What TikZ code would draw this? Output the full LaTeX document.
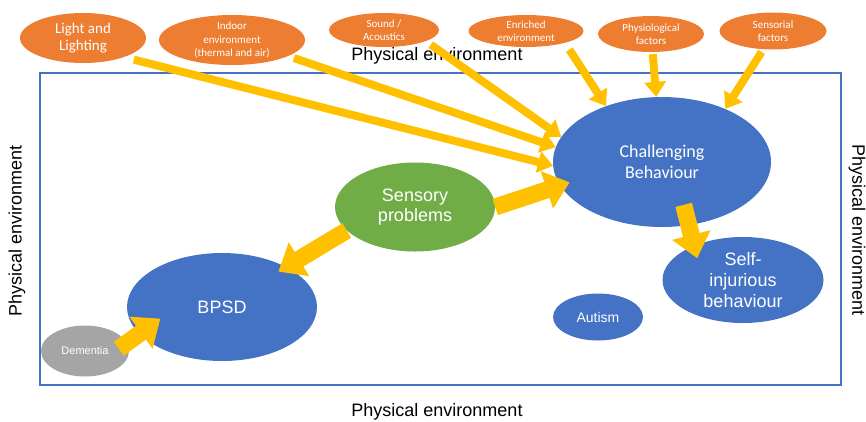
\documentclass[tikz,border=0pt]{standalone}
\usepackage{fontspec}
\setmainfont{Liberation Sans}
\newfontfamily\calibri{Carlito}
\usetikzlibrary{shapes.geometric,arrows.meta}

\definecolor{factorcol}{HTML}{ED7D31}
\definecolor{outcomecol}{HTML}{4472C4}
\definecolor{sensecol}{HTML}{70AD47}
\definecolor{causecol}{HTML}{A5A5A5}
\definecolor{arrowcol}{HTML}{FFC000}

\begin{document}
\begin{tikzpicture}[x=1pt,y=-1pt,
    blob/.style={ellipse,inner sep=0pt,text=white,align=center},
    factor/.style={blob,fill=factorcol,font=\calibri\fontsize{11}{13.5}\selectfont},
    outcome/.style={blob,fill=outcomecol,font=\fontsize{18}{21}\selectfont},
    feed/.style={-{Triangle[width=21pt,length=15pt]},line width=8pt,draw=arrowcol,shorten <=6pt},
    push/.style={-{Triangle[width=38pt,length=24pt]},line width=17pt,draw=arrowcol},
    env/.style={font=\fontsize{18}{20}\selectfont}]
  \useasboundingbox (0,0) rectangle (866,421);

  % room
  \draw[outcomecol,line width=2pt] (40,73) rectangle (841,385);
  \node[env] (envtop) at (437,56) {Physical environment};
  \node[env] (envbot) at (437,412) {Physical environment};
  \node[env,rotate=90] (envleft) at (17,231) {Physical environment};
  \node[env,rotate=-90] (envright) at (857,230) {Physical environment};

  % factors
  \node[factor,minimum width=126pt,minimum height=50pt,font=\calibri\fontsize{15}{17}\selectfont] (light) at (83,38) {Light and\\Lighting};
  \node[factor,minimum width=146pt,minimum height=50pt,inner ysep=-2pt] (indoor) at (232,40) {Indoor\\environment\\(thermal and air)};
  \node[factor,minimum width=110pt,minimum height=34pt] (sound) at (384,30) {Sound /\\Acoustics};
  \node[factor,minimum width=115pt,minimum height=32pt] (enriched) at (526,31) {Enriched\\environment};
  \node[factor,minimum width=106pt,minimum height=36pt] (physio) at (651,34) {Physiological\\factors};
  \node[factor,minimum width=107pt,minimum height=37pt] (sensorial) at (773,31) {Sensorial\\factors};

  % inside the room
  \node[outcome,minimum width=218pt,minimum height=130pt,font=\calibri\fontsize{18}{21}\selectfont] (cb) at (662,162) {Challenging\\Behaviour};
  \node[outcome,minimum width=161pt,minimum height=86pt] (sib) at (743,280) {Self-\\injurious\\behaviour};
  \node[outcome,minimum width=90pt,minimum height=47pt,font=\fontsize{14}{16}\selectfont] (autism) at (598,317) {Autism};
  \node[outcome,minimum width=190pt,minimum height=108pt] (bpsd) at (222,307) {BPSD};
  \node[blob,fill=sensecol,minimum width=160pt,minimum height=89pt,font=\fontsize{18}{20}\selectfont] (sensory) at (415,207) {Sensory\\problems};
  \node[blob,fill=causecol,minimum width=88pt,minimum height=51pt,font=\fontsize{11}{13}\selectfont] (dementia) at (85,351) {Dementia};

  % arrows
  \draw[feed,shorten <=10pt] (light.-25) -- (cb.182);
  \draw[feed] (indoor.-16) -- (cb.172);
  \draw[feed] (sound.-15) -- (cb.166);
  \draw[feed,shorten <=8pt] (enriched.-17) -- (cb.135);
  \draw[feed,shorten <=2pt] (physio.-85) -- (cb.95);
  \draw[feed,shorten <=3pt] (sensorial.-118) -- (cb.40);
  \draw[push,shorten >=-10pt] (sensory.east) -- (cb.193);
  \draw[push,shorten >=-9pt] (sensory.199) -- (bpsd.32);
  \draw[push,shorten <=-21pt,shorten >=-13pt] (cb.-67) -- (sib.145);
  \draw[push,shorten <=-10pt,shorten >=-26pt] (dementia.11) -- (bpsd.198);
\end{tikzpicture}
\end{document}
